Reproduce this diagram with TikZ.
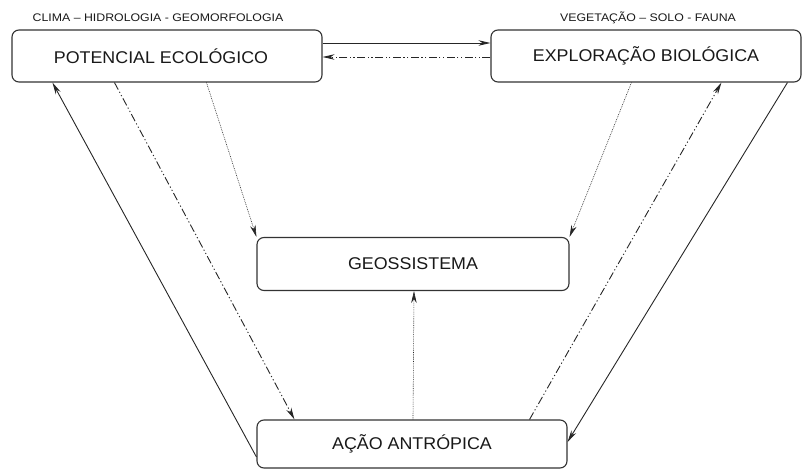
\documentclass[tikz,border=0pt]{standalone}
\usepackage{fontspec}
\setmainfont{Liberation Sans}
\newfontfamily\boxfont{Liberation Sans}[FakeStretch=1.05]
\newfontfamily\lblfont{Liberation Sans}[FakeStretch=1.12]
\usetikzlibrary{arrows.meta,calc}
\begin{document}
\begin{tikzpicture}[x=1pt,y=-1pt,
  box/.style={draw=black!80,line width=1.1pt,rounded corners=7pt,fill=white,
    text=black!90,font=\boxfont\fontsize{17}{20}\selectfont,inner sep=0pt},
  lbl/.style={text=black!90,font=\lblfont\fontsize{11}{13}\selectfont,inner sep=0pt},
  arr/.style={draw=black!85,line width=0.9pt,-{Stealth[length=12pt,width=5.5pt]}},
  ddd/.style={arr,dash pattern=on 8pt off 2.5pt on 1.2pt off 2.5pt on 1.2pt off 2.5pt},
  dtt/.style={arr,line width=0.6pt,dash pattern=on 0.8pt off 1pt}]
\useasboundingbox (0,0) rectangle (803,470);
\node[box,minimum width=310pt,minimum height=52pt] (pot) at (167,56) {\hspace*{-12pt}POTENCIAL ECOLÓGICO};
\node[box,minimum width=310pt,minimum height=52pt] (exp) at (646,56) {EXPLORAÇÃO BIOLÓGICA};
\node[box,minimum width=312pt,minimum height=53pt] (geo) at (413,264) {GEOSSISTEMA};
\node[box,minimum width=310pt,minimum height=48pt] (acao) at (412,444) {AÇÃO ANTRÓPICA};
\node[lbl] (l1) at (158,18) {CLIMA – HIDROLOGIA - GEOMORFOLOGIA};
\node[lbl] (l2) at (648,18) {VEGETAÇÃO – SOLO - FAUNA};
% top connectors
\draw[arr] ([yshift=13pt]pot.east) -- ([yshift=13pt]exp.west);
\draw[ddd] ([yshift=-1pt]exp.west) -- ([yshift=-1pt]pot.east);
% left side
\draw[arr] ([yshift=-13pt]acao.west) -- ([xshift=41pt]pot.south west);
\draw[ddd] ([xshift=103pt]pot.south west) -- ([xshift=38pt]acao.north west);
\draw[dtt] ([xshift=195pt]pot.south west) -- (geo.north west);
% right side
\draw[dtt] ([xshift=141pt]exp.south west) -- (geo.north east);
\draw[ddd] ([xshift=-38pt]acao.north east) -- ([xshift=231pt]exp.south west);
\draw[arr] ([xshift=297pt]exp.south west) -- ([yshift=2pt]acao.east);
% centre
\draw[dtt] ([xshift=1pt]acao.north) -- ([xshift=1pt]geo.south);
\end{tikzpicture}
\end{document}
